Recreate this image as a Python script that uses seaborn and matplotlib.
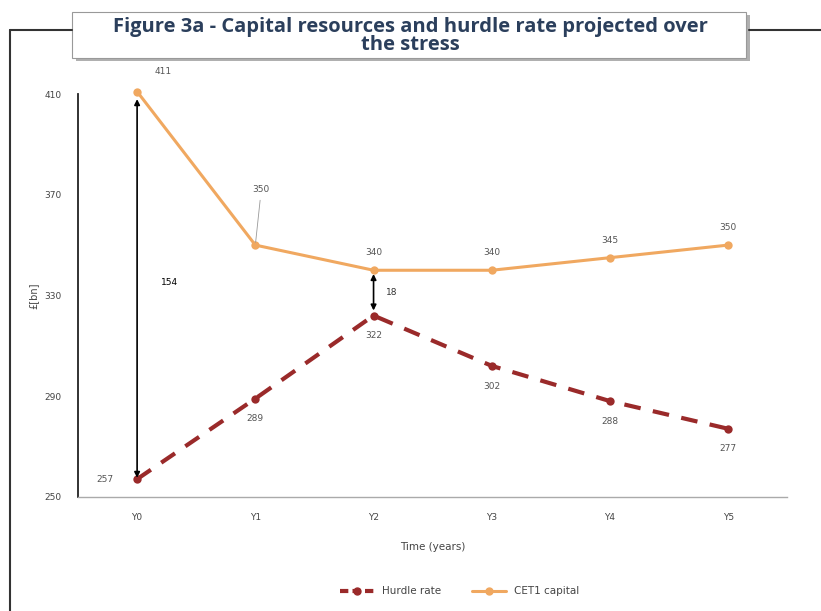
import pandas as pd
import numpy as np
import matplotlib.pyplot as plt
import seaborn as sns
from matplotlib.patches import FancyBboxPatch
from matplotlib.lines import Line2D

# 데이터
years = ["Y0", "Y1", "Y2", "Y3", "Y4", "Y5"]
hurdle = [257, 289, 322, 302, 288, 277]
cet1 = [411, 350, 340, 340, 345, 350]
y_ticks = [250, 290, 330, 370, 410]

df = pd.DataFrame({"year": years * 2,
                   "value": hurdle + cet1,
                   "series": ["Hurdle rate"] * 6 + ["CET1 capital"] * 6})

sns.set_style("white")
plt.rcParams['font.family'] = ['DejaVu Sans']

fig = plt.figure(figsize=(8.21, 6.11), dpi=100)
ax = fig.add_axes([0.095, 0.187, 0.864, 0.659])

red = "#9a2a2a"
orange = "#f0a860"
sns.lineplot(data=df, x="year", y="value", hue="series", style="series",
             palette={"Hurdle rate": red, "CET1 capital": orange},
             dashes={"Hurdle rate": (4, 3), "CET1 capital": ""},
             markers={"Hurdle rate": "o", "CET1 capital": "o"},
             markersize=6, markeredgewidth=0, ax=ax, clip_on=False)
for ln in ax.lines:
    ln.set_clip_on(False)
ax.lines[0].set_linewidth(3)
ax.lines[1].set_linewidth(2.2)

ax.set_xlim(-0.5, 5.5)
ax.set_ylim(250, 410)
ax.set_yticks(y_ticks)
ax.tick_params(axis="both", labelsize=6.5, colors="#444444", length=0, pad=12)
ax.set_xlabel("Time (years)", fontsize=7.5, color="#444444", labelpad=14)
ax.set_ylabel("£[bn]", fontsize=7, color="#444444", labelpad=4)
for s in ["top", "right"]:
    ax.spines[s].set_visible(False)
ax.spines["left"].set_color("#222222")
ax.spines["left"].set_linewidth(1.3)
ax.spines["bottom"].set_color("#aaaaaa")
ax.spines["bottom"].set_linewidth(1)

# 데이터 라벨
lab = dict(fontsize=6.5, color="#555555", ha="center")
ax.text(0.22, 418, str(cet1[0]), **lab)
ax.annotate(str(cet1[1]), xy=(1, cet1[1]), xytext=(1.05, 371), fontsize=6.5,
            color="#555555", ha="center",
            arrowprops=dict(arrowstyle="-", color="#999999", lw=0.6))
for i in range(2, 6):
    ax.text(i, cet1[i] + 6, str(cet1[i]), **lab)
ax.text(-0.27, 257, str(hurdle[0]), va="center", **lab)
for i in range(1, 6):
    ax.text(i, hurdle[i] - 9, str(hurdle[i]), **lab)

# 화살표
ax.annotate("", xy=(0, 408), xytext=(0, 257.5),
            arrowprops=dict(arrowstyle="<|-|>", color="black", lw=1.2,
                            mutation_scale=8, shrinkA=0, shrinkB=0))
ax.text(0.27, 335, str(cet1[0] - hurdle[0]), fontsize=6.5, color="black", ha="center", va="center")
ax.annotate("", xy=(2, 338.5), xytext=(2, 324),
            arrowprops=dict(arrowstyle="<|-|>", color="black", lw=1.2,
                            mutation_scale=8, shrinkA=0, shrinkB=0))
ax.text(2.15, 331, str(cet1[2] - hurdle[2]), fontsize=6.5, color="#333333", ha="center", va="center")

# 범례
handles = [Line2D([], [], color=red, lw=3, ls=(0, (2, 1)), marker="o", markersize=5),
           Line2D([], [], color=orange, lw=2.2, marker="o", markersize=5)]
ax.get_legend().remove()
fig.legend(handles, ["Hurdle rate", "CET1 capital"], loc="center", bbox_to_anchor=(0.56, 0.032),
           ncol=2, frameon=False, fontsize=7.5, labelcolor="#444444", handlelength=3.2,
           columnspacing=3)

# 바깥 프레임과 제목 박스
fig.add_artist(Line2D([0.012, 0.088], [0.951, 0.951], color="#333333", lw=1.5))
fig.add_artist(Line2D([0.912, 1.0], [0.951, 0.951], color="#333333", lw=1.5))
fig.add_artist(Line2D([0.012, 0.012], [0.0, 0.951], color="#333333", lw=1.5))
fig.add_artist(FancyBboxPatch((0.092, 0.900), 0.821, 0.075, boxstyle="square,pad=0",
                              transform=fig.transFigure, facecolor="#b0b0b0", edgecolor="none"))
fig.add_artist(FancyBboxPatch((0.088, 0.905), 0.821, 0.075, boxstyle="square,pad=0",
                              transform=fig.transFigure, facecolor="white", edgecolor="#999999", lw=0.8))
fig.text(0.50, 0.941, "Figure 3a - Capital resources and hurdle rate projected over\nthe stress",
         ha="center", va="center", fontsize=14.5, fontweight="bold", color="#2b3f5c",
         linespacing=0.88, family=["Open Sans", "DejaVu Sans"])

plt.savefig("out.png", dpi=100)
